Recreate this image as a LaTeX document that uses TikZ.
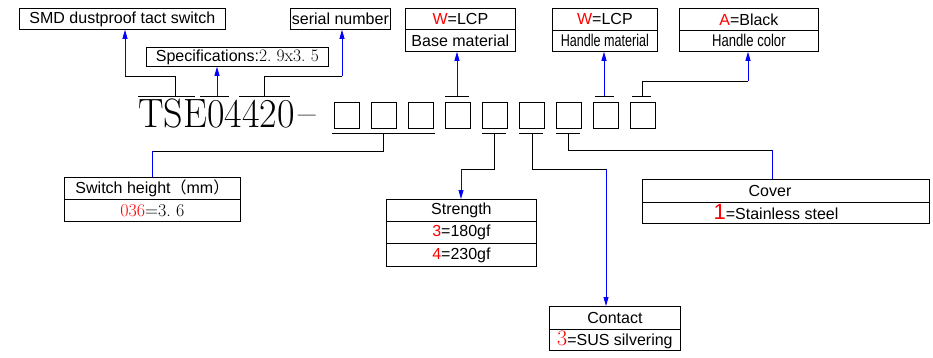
\documentclass[tikz,border=0pt]{standalone}
\usepackage{graphicx}
\usepackage{fontspec}
\setsansfont{Liberation Sans}
\newfontfamily\cjk{Noto Sans CJK SC}
\usetikzlibrary{arrows.meta}
\begin{document}
\begin{tikzpicture}[x=1pt,y=-1pt,
  lab/.style={font=\sffamily\fontsize{16}{18}\selectfont},
  cell/.style={draw, line width=0.8pt, inner sep=0pt, anchor=north west, lab},
  ln/.style={line width=0.8pt, black},
  bl/.style={line width=0.8pt, blue},
  arr/.style={bl, -{Triangle[length=9pt,width=5pt]}},
  sq/.style={draw, line width=0.8pt, minimum width=25pt, minimum height=26pt, inner sep=0pt, anchor=north west},
]
\useasboundingbox (0,0) rectangle (933,358);

% top boxes
\node[cell, minimum width=206pt, minimum height=21pt] (smd) at (19,8) {SMD dustproof tact switch};
\node[cell, minimum width=100pt, minimum height=21pt] (serial) at (290,8) {serial number};
\node[cell, minimum width=182pt, minimum height=19pt] (spec) at (146,47) {Specifications:{\rmfamily\fontsize{17.5}{18}\selectfont 2.\ 9x3.\ 5}};

\node[cell, minimum width=110pt, minimum height=21pt] (baseA) at (405,8) {\textcolor{red}{W}=LCP};
\node[cell, minimum width=110pt, minimum height=22pt] (baseB) at (405,29) {Base material};
\node[cell, minimum width=105pt, minimum height=22pt] (hmA) at (552,8) {\textcolor{red}{W}=LCP};
\node[cell, minimum width=105pt, minimum height=21pt] (hmB) at (552,30) {\fontsize{17}{18}\selectfont\scalebox{0.74}[1]{Handle material}};
\node[cell, minimum width=139pt, minimum height=22pt] (hcA) at (679,8) {\textcolor{red}{A}=Black};
\node[cell, minimum width=139pt, minimum height=21pt] (hcB) at (679,30) {\fontsize{17}{18}\selectfont\scalebox{0.77}[1]{Handle color}};

% code
\node[anchor=base west, inner sep=0pt, font=\fontsize{41}{41}\selectfont] (code) at (138,128) {\scalebox{0.93}[1]{TSE04420\hspace{4pt}\raisebox{1.5pt}{–}}};
\foreach \i in {1,...,9} \node[sq] (s\i) at ({334+37*(\i-1)},102) {};

% bars above
\draw[ln] (138,96) -- (195,96);
\draw[ln] (200,96) -- (229,96);
\draw[ln] (239,96) -- (290,96);
\draw[ln] (445,96) -- (469,96);
\draw[ln] (595,96) -- (614,96);
\draw[ln] (632,96) -- (651,96);

\coordinate (k1) at (175,96); \coordinate (k1b) at (125,76);
\draw[ln] (k1) |- (k1b);
\draw[arr] (k1b) -- (k1b |- smd.south);
\coordinate (k2) at (217,96);
\draw[arr] (k2) -- (k2 |- spec.south);
\coordinate (k3) at (264,96); \coordinate (k3b) at (342,76);
\draw[ln] (k3) |- (k3b);
\draw[arr] (k3b) -- (k3b |- serial.south);
\coordinate (k4) at (457,96);
\draw[arr] (k4) -- (k4 |- baseB.south);
\coordinate (k8) at (604,96);
\draw[arr] (k8) -- (k8 |- hmB.south);
\coordinate (k9) at (642,96); \coordinate (k9b) at (748,81);
\draw[ln] (k9) |- (k9b);
\draw[arr] (k9b) -- (k9b |- hcB.south);

% bottom boxes
\node[cell, minimum width=176pt, minimum height=22pt] (shA) at (64,177) {Switch height{\cjk （}mm{\cjk ）}};
\node[cell, minimum width=176pt, minimum height=22pt] (shB) at (64,199) {\rmfamily\fontsize{18}{18}\selectfont\textcolor{red}{036}=3.\ 6};
\node[cell, minimum width=150pt, minimum height=22pt] (stA) at (386,199) {Strength};
\node[cell, minimum width=150pt, minimum height=22pt] (stB) at (386,221) {\textcolor{red}{3}=180gf};
\node[cell, minimum width=150pt, minimum height=23pt] (stC) at (386,243) {\textcolor{red}{4}=230gf};
\node[cell, minimum width=131pt, minimum height=23pt] (coA) at (549,306) {Contact};
\node[cell, minimum width=131pt, minimum height=21pt] (coB) at (549,329) {\textcolor{red}{\rmfamily\fontsize{22}{22}\selectfont 3}=SUS silvering};
\node[cell, minimum width=287pt, minimum height=23pt] (cvA) at (642,179) {};
\node[cell, minimum width=287pt, minimum height=21pt] (cvB) at (642,202) {};
\node[lab, inner sep=0pt] (cvAt) at (770,190.5) {Cover};
\node[lab, inner sep=0pt] (cvBt) at (776,212.5) {\textcolor{red}{\fontsize{22}{22}\selectfont 1}=Stainless steel};

% bars below
\draw[ln] (332,133) -- (435,133);
\draw[ln] (482,133) -- (506,133);
\draw[ln] (519,133) -- (543,133);
\draw[ln] (556,133) -- (580,133);

\coordinate (k10) at (383,133); \coordinate (k10b) at (152,151);
\draw[ln] (k10) |- (k10b);
\draw[bl] (k10b) -- (k10b |- shA.north);
\coordinate (k5) at (494,133); \coordinate (k5b) at (461,169);
\draw[ln] (k5) |- (k5b);
\draw[arr] (k5b) -- (k5b |- stA.north);
\coordinate (k6) at (532,133); \coordinate (k6b) at (606,169);
\draw[ln] (k6) |- (k6b);
\draw[arr] (k6b) -- (k6b |- coA.north);
\coordinate (k7) at (568,133); \coordinate (k7b) at (772,150);
\draw[ln] (k7) |- (k7b);
\draw[bl] (k7b) -- (k7b |- cvA.north);
\end{tikzpicture}
\end{document}
